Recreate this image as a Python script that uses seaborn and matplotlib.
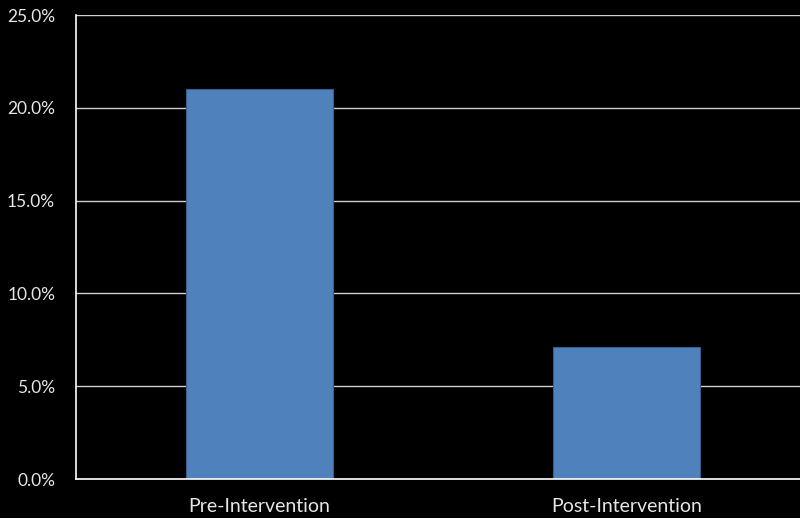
import matplotlib
matplotlib.use("Agg")
import matplotlib.pyplot as plt
import matplotlib.ticker as mticker
import seaborn as sns
import pandas as pd

# Share of cases before and after the intervention
phases = ["Pre-Intervention", "Post-Intervention"]
rates = [0.210, 0.071]
y_ticks = [0.0, 0.05, 0.10, 0.15, 0.20, 0.25]

df = pd.DataFrame({"phase": phases, "rate": rates})

sns.set_style("dark")
plt.rcParams["font.family"] = ["Lato", "DejaVu Sans"]

text_color = "#e6e6e6"
fig = plt.figure(figsize=(8.0, 5.18), dpi=100, facecolor="black")
ax = fig.add_axes([76 / 800, 1 - 479 / 518, (810 - 76) / 800, (479 - 15) / 518])
ax.set_facecolor("black")

sns.barplot(data=df, x="phase", y="rate", ax=ax, width=0.4,
            color="#4f81bd", saturation=1, edgecolor="#385d8a", linewidth=0.8,
            zorder=3)

ax.set_ylim(0, 0.25)
ax.set_xlim(-0.5, 1.5)
ax.set_yticks(y_ticks)
ax.yaxis.set_major_formatter(mticker.PercentFormatter(xmax=1, decimals=1))
ax.yaxis.grid(True, color="#d0d0d0", linewidth=1.0, zorder=0)
ax.xaxis.grid(False)

ax.set_xlabel("")
ax.set_ylabel("")

# category boundaries as minor ticks on the x axis
ax.set_xticks([-0.5, 0.5, 1.5], minor=True)
ax.tick_params(axis="x", which="major", length=0, pad=14, labelsize=14,
               labelcolor=text_color)
ax.tick_params(axis="x", which="minor", length=5, width=1, color="#909090",
               direction="out")
ax.tick_params(axis="y", which="major", length=5, width=1, color="#d0d0d0",
               direction="out", pad=10, labelsize=12.5, labelcolor=text_color)

for side in ("top", "right"):
    ax.spines[side].set_visible(False)
for side in ("left", "bottom"):
    ax.spines[side].set_visible(True)
    ax.spines[side].set_color("white")
    ax.spines[side].set_linewidth(1.2)
    ax.spines[side].set_zorder(4)

fig.savefig("out.png", dpi=100, facecolor="black")
